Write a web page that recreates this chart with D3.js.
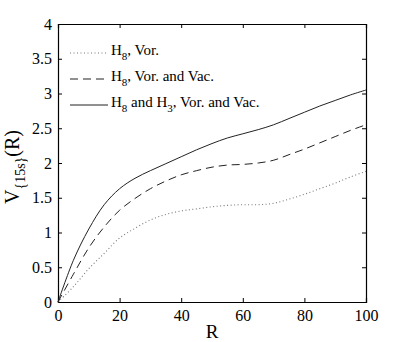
<!DOCTYPE html>
<html>
<head>
<meta charset="utf-8">
<script src="https://cdn.jsdelivr.net/npm/d3@7"></script>
<style>
  body { margin: 0; background: #fff; }
  svg, svg text, svg tspan { font-family: 'Liberation Serif', serif; }
</style>
</head>
<body>
<div id="canvas"></div>
<script>
// sample radii
var radii = [0, 5, 10, 15, 20, 25, 30, 35, 40, 45, 50, 55, 60, 65, 70, 75, 80, 85, 90, 95, 100];

// H8, Vor.
var vorOnly = [0, 0.22, 0.48, 0.70, 0.92, 1.06, 1.18, 1.26, 1.31, 1.34, 1.37, 1.39, 1.40, 1.40, 1.42, 1.48, 1.55, 1.63, 1.71, 1.80, 1.88];
// H8, Vor. and Vac.
var vorVac = [0, 0.40, 0.78, 1.08, 1.32, 1.49, 1.63, 1.74, 1.83, 1.89, 1.94, 1.97, 1.98, 2.00, 2.04, 2.12, 2.20, 2.29, 2.38, 2.47, 2.55];
// H8 and H3, Vor. and Vac.
var bothVorVac = [0, 0.60, 1.05, 1.40, 1.63, 1.78, 1.89, 1.99, 2.09, 2.19, 2.28, 2.36, 2.42, 2.48, 2.55, 2.64, 2.73, 2.82, 2.90, 2.98, 3.05];

var xTicks = [0, 20, 40, 60, 80, 100];
var yTicks = [0, 0.5, 1, 1.5, 2, 2.5, 3, 3.5, 4];

var series = [
  { name: "vor", values: vorOnly, dash: "1,2.5", color: "#777", width: 1.1 },
  { name: "vac", values: vorVac, dash: "8,5", color: "#222", width: 1 },
  { name: "both", values: bothVorVac, dash: null, color: "#222", width: 1 }
];

var winWidth = 399, winHeight = 342;
var margin = { top: 24, right: 33, bottom: 40, left: 58 },
  width = winWidth - margin.left - margin.right,
  height = winHeight - margin.top - margin.bottom;

var svg = d3.select("#canvas").append("svg")
  .attr("width", winWidth)
  .attr("height", winHeight);

var g = svg.append("g")
  .attr("transform", "translate(" + margin.left + "," + margin.top + ")");

var x = d3.scaleLinear().domain([0, 100]).range([0, width]);
var y = d3.scaleLinear().domain([0, 4]).range([height, 0]);

// matlab style inward ticks on all four sides
var tickLen = 4;
g.append("g")
  .attr("class", "axis")
  .attr("transform", "translate(0," + height + ")")
  .call(d3.axisBottom(x).tickValues(xTicks).tickSize(-tickLen).tickPadding(8).tickFormat(d3.format("d")));
g.append("g")
  .attr("class", "axis")
  .call(d3.axisTop(x).tickValues(xTicks).tickSize(-tickLen).tickFormat(""));
g.append("g")
  .attr("class", "axis")
  .call(d3.axisLeft(y).tickValues(yTicks).tickSize(-tickLen).tickPadding(6).tickFormat(function(d) { return String(d); }));
g.append("g")
  .attr("class", "axis")
  .attr("transform", "translate(" + width + ",0)")
  .call(d3.axisRight(y).tickValues(yTicks).tickSize(-tickLen).tickFormat(""));

// d3 axis puts font-family="sans-serif" on its group, drop it
g.selectAll(".axis")
  .attr("font-family", null)
  .attr("font-size", 16);
g.selectAll(".axis path").attr("stroke", "#000").attr("stroke-width", 1.2);
g.selectAll(".axis line").attr("stroke", "#000");
g.selectAll(".axis text").attr("fill", "#000");

var line = d3.line()
  .x(function(d, i) { return x(radii[i]); })
  .y(function(d) { return y(d); })
  .curve(d3.curveCatmullRom.alpha(0.5));

g.selectAll(".series")
  .data(series)
  .enter().append("path")
  .attr("class", "series")
  .attr("d", function(d) { return line(d.values); })
  .attr("fill", "none")
  .attr("stroke", function(d) { return d.color; })
  .attr("stroke-width", function(d) { return d.width; })
  .attr("stroke-dasharray", function(d) { return d.dash; });

// legend: text parts, flag 1 = subscript
var legendRows = [
  { s: series[0], y: 29, parts: [["H", 0], ["8", 1], [", Vor.", 0]] },
  { s: series[1], y: 55, parts: [["H", 0], ["8", 1], [", Vor. and Vac.", 0]] },
  { s: series[2], y: 81, parts: [["H", 0], ["8", 1], [" and H", 0], ["3", 1], [", Vor. and Vac.", 0]] }
];

var legend = g.append("g").attr("class", "legend");
legendRows.forEach(function(r) {
  legend.append("line")
    .attr("x1", 12).attr("x2", 50)
    .attr("y1", r.y).attr("y2", r.y)
    .attr("stroke", r.s.color)
    .attr("stroke-width", r.s.width)
    .attr("stroke-dasharray", r.s.dash);
  var t = legend.append("text")
    .attr("x", 53)
    .attr("y", r.y + 2)
    .attr("font-size", 15);
  var prevSub = 0;
  r.parts.forEach(function(p) {
    t.append("tspan")
      .attr("dy", p[1] ? 5 : (prevSub ? -5 : 0))
      .attr("font-size", p[1] ? 11 : 15)
      .text(p[0]);
    prevSub = p[1];
  });
});

// axis labels
svg.append("text")
  .attr("x", margin.left + width / 2)
  .attr("y", 338)
  .attr("text-anchor", "middle")
  .attr("font-size", 19)
  .text("R");

var yl = svg.append("text")
  .attr("transform", "translate(19,167) rotate(-90)")
  .attr("text-anchor", "middle")
  .attr("font-size", 20);
yl.append("tspan").text("V");
yl.append("tspan").attr("dy", 6).attr("font-size", 14).text("{15s}");
yl.append("tspan").attr("dy", -6).text("(R)");
</script>
</body>
</html>
